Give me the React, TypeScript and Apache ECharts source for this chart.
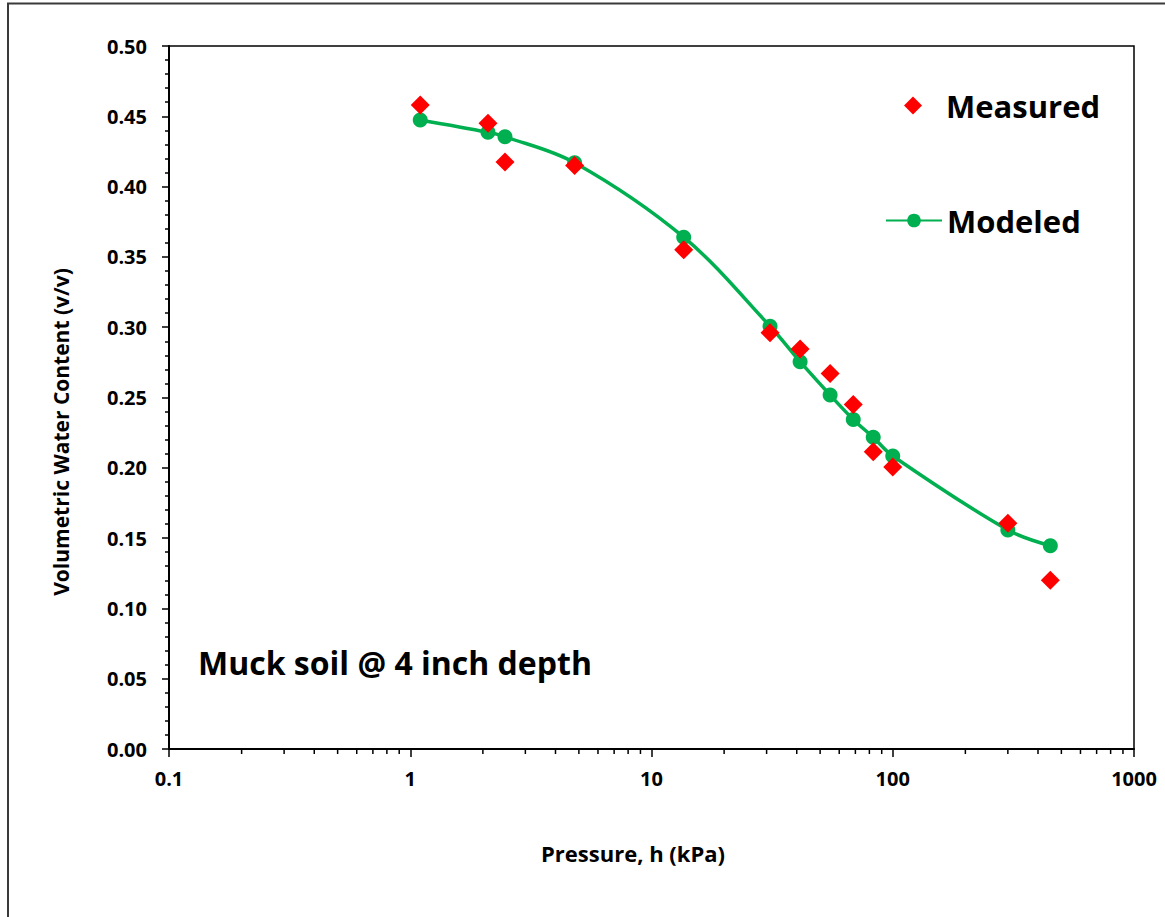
import React, { useEffect, useRef } from "react";
import * as echarts from "echarts";

// Pressure, h (kPa) at which both measured and modeled values are given
const pressure = [1.1, 2.1, 2.47, 4.8, 13.6, 31, 41.3, 55, 68.6, 83, 100, 300, 450];
// Volumetric water content (v/v)
const measured = [0.458, 0.445, 0.4175, 0.415, 0.355, 0.296, 0.2845, 0.267, 0.245, 0.2115, 0.2005, 0.1605, 0.12];
const modeled = [0.4474, 0.4386, 0.4355, 0.417, 0.364, 0.3007, 0.2755, 0.2518, 0.2344, 0.2217, 0.2084, 0.1558, 0.1446];

// Minor tick positions on the log x axis
const minorXTicks = [
  0.2, 0.3, 0.4, 0.5, 0.6, 0.7, 0.8, 0.9,
  2, 3, 4, 5, 6, 7, 8, 9,
  20, 30, 40, 50, 60, 70, 80, 90,
  200, 300, 400, 500, 600, 700, 800, 900,
];

const FONT = '"Open Sans", "Liberation Sans", sans-serif';

export default function App() {
  const ref = useRef<HTMLDivElement>(null);

  useEffect(() => {
    if (!ref.current) return;
    const chart = echarts.init(ref.current, undefined, { renderer: "svg" });

    const labelStyle = {
      fontFamily: FONT,
      fontWeight: "bold" as const,
      fontSize: 20,
      color: "#000",
    };

    chart.setOption({
      animation: false,
      backgroundColor: "#fff",
      grid: {
        left: 169,
        right: 31,
        top: 46,
        bottom: 168,
        show: true,
        borderColor: "#000",
        borderWidth: 1.5,
        backgroundColor: "transparent",
      },
      xAxis: {
        type: "log",
        logBase: 10,
        min: 0.1,
        max: 1000,
        axisLine: { show: true, onZero: false, lineStyle: { color: "#000", width: 2 } },
        axisTick: { show: true, length: 8, lineStyle: { color: "#000", width: 1.5 } },
        axisLabel: {
          ...labelStyle,
          margin: 19,
          formatter: (v: number) => String(v),
        },
        splitLine: { show: false },
        minorTick: { show: false },
      },
      yAxis: {
        type: "value",
        min: 0,
        max: 0.5,
        interval: 0.05,
        axisLine: { show: true, lineStyle: { color: "#000", width: 2 } },
        axisTick: { show: true, length: 7, lineStyle: { color: "#000", width: 1.5 } },
        minorTick: { show: true, splitNumber: 5, length: 4, lineStyle: { color: "#000", width: 1.5 } },
        axisLabel: {
          ...labelStyle,
          margin: 22,
          formatter: (v: number) => v.toFixed(2),
        },
        splitLine: { show: false },
      },
      legend: [
        {
          data: ["Measured"],
          left: 904,
          top: 90,
          padding: 0,
          itemWidth: 18,
          itemHeight: 18,
          itemGap: 0,
          itemStyle: { opacity: 1 },
          textStyle: {
            fontFamily: FONT,
            fontWeight: "bold",
            fontSize: 31,
            color: "#000",
            padding: [0, 0, 0, 19],
          },
        },
        {
          data: ["Modeled"],
          left: 885,
          top: 205,
          padding: 0,
          itemWidth: 56,
          itemHeight: 17,
          itemGap: 0,
          textStyle: { fontFamily: FONT, fontWeight: "bold", fontSize: 31, color: "#000" },
        },
      ],
      series: [
        {
          name: "Modeled",
          type: "line",
          data: pressure.map((p, i) => [p, modeled[i]]),
          smooth: 0.35,
          symbol: "circle",
          symbolSize: 15,
          itemStyle: { color: "#00B050", opacity: 1 },
          lineStyle: { color: "#00B050", width: 3.5 },
          z: 2,
        },
        {
          name: "Measured",
          type: "scatter",
          data: pressure.map((p, i) => [p, measured[i]]),
          symbol: "diamond",
          symbolSize: [19, 19],
          itemStyle: { color: "#FF0000", opacity: 1 },
          z: 3,
        },
        {
          name: "minorTicks",
          type: "custom",
          silent: true,
          clip: false,
          data: minorXTicks.map((v) => [v, 0]),
          renderItem: (_params: any, api: any) => {
            const p = api.coord([api.value(0), 0]);
            return {
              type: "line",
              shape: { x1: p[0], y1: p[1], x2: p[0], y2: p[1] + 5 },
              style: { stroke: "#000", lineWidth: 1.5 },
            };
          },
          z: 1,
        },
      ],
      graphic: [
        {
          type: "rect",
          shape: { x: 8, y: 3.5, width: 1300, height: 1000 },
          style: { fill: "none", stroke: "#3a3a3a", lineWidth: 2 },
          silent: true,
        },
        {
          type: "text",
          x: 61,
          y: 432,
          rotation: Math.PI / 2,
          style: {
            text: "Volumetric Water Content (v/v)",
            font: `bold 21px ${FONT}`,
            fill: "#000",
            align: "center",
            verticalAlign: "middle",
          },
        },
        {
          type: "text",
          x: 633,
          y: 853,
          style: {
            text: "Pressure, h (kPa)",
            font: `bold 22px ${FONT}`,
            fill: "#000",
            align: "center",
            verticalAlign: "middle",
          },
        },
        {
          type: "text",
          x: 198,
          y: 662,
          style: {
            text: "Muck soil @ 4 inch depth",
            font: `bold 32px ${FONT}`,
            fill: "#000",
            align: "left",
            verticalAlign: "middle",
          },
        },
      ],
    });

    return () => chart.dispose();
  }, []);

  return (
    <div
      ref={ref}
      style={{ position: "absolute", left: 0, top: 0, width: 1165, height: 917 }}
    />
  );
}
